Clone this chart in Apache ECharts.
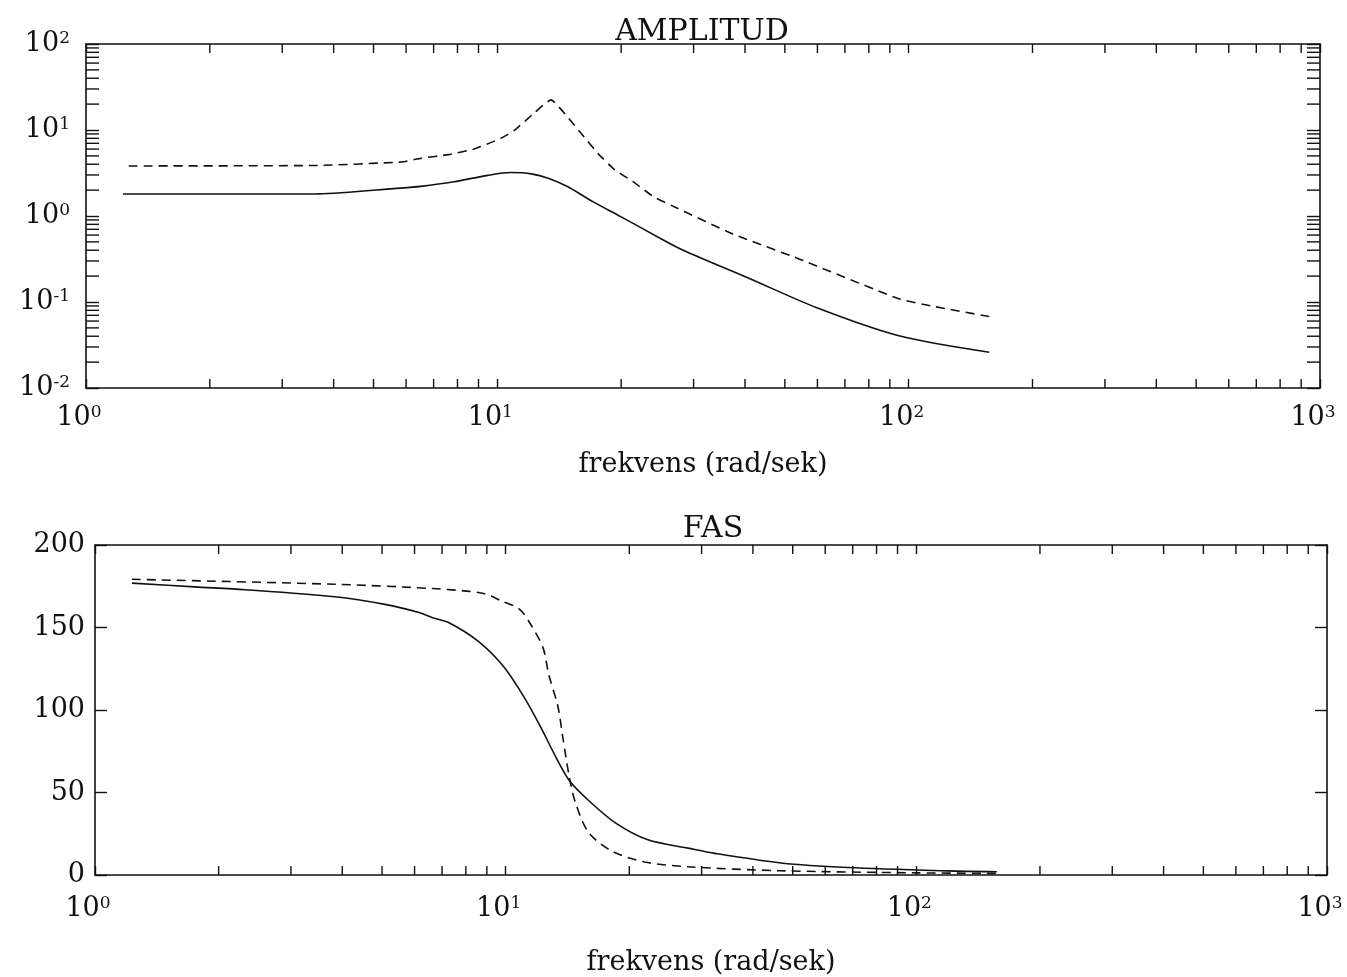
<!DOCTYPE html>
<html>
<head>
<meta charset="utf-8">
<script src="https://cdn.jsdelivr.net/npm/echarts@6/dist/echarts.min.js"></script>
<style>
  html, body { margin: 0; padding: 0; background: #fff; }
  #chart { width: 1347px; height: 977px; }
</style>
</head>
<body>
<div id="chart"></div>
<script>
// amplitud (log-log)
const ampSolidX = [1.23, 2.65, 3.66, 5.82, 6.51, 7.84, 9.48, 10.8, 12.1, 13.3, 14.8, 17.1, 19.9, 24.8, 28.3, 41.0, 59.6, 94.7, 157]
const ampSolidY = [1.80, 1.80, 1.81, 2.11, 2.21, 2.50, 2.97, 3.20, 3.09, 2.75, 2.20, 1.46, 0.99, 0.556, 0.40, 0.188, 0.0863, 0.0405, 0.0261]
const ampDashX = [1.27, 3.66, 5.84, 6.53, 7.60, 8.79, 10.2, 11.0, 12.3, 13.5, 14.9, 16.0, 17.6, 19.2, 21.5, 24.0, 27.4, 37.4, 54.3, 94.6, 114, 159]
const ampDashY = [3.82, 3.87, 4.25, 4.70, 5.17, 6.01, 8.0, 9.9, 15.8, 22.4, 13.7, 9.1, 5.28, 3.51, 2.46, 1.67, 1.23, 0.617, 0.315, 0.109, 0.0895, 0.067]

// fas (grader)
const fasSolidX = [1.23, 1.75, 2.32, 3.84, 5.08, 6.15, 6.61, 7.26, 8.58, 9.85, 11.05, 12.1, 13.3, 14.3, 15.9, 18.5, 22.2, 27.8, 32.3, 46.8, 68, 119, 157]
const fasSolidY = [176.9, 174.6, 172.9, 168.6, 164.0, 159.1, 156.1, 153.0, 141.6, 126.8, 108.4, 90.8, 70.7, 57.1, 45.3, 31.6, 21.3, 16.3, 13.1, 7.3, 4.5, 2.5, 2.0]
const fasDashX = [1.23, 3.84, 6.62, 8.77, 9.79, 10.8, 11.56, 12.34, 12.73, 13.4, 13.8, 14.3, 14.8, 15.9, 18.1, 21.8, 27.8, 46.6, 100, 157]
const fasDashY = [179.2, 176.2, 173.6, 170.8, 166.0, 161.1, 151.1, 137.5, 121.6, 102.3, 82.3, 58.9, 43.6, 26.0, 14.6, 7.9, 5.0, 2.6, 1.3, 1.0]

// axes
const freqMin = 1, freqMax = 1000
const ampMin = 0.01, ampMax = 100
const fasMin = 0, fasMax = 200, fasStep = 50
const freqMinor = [2, 3, 4, 5, 6, 7, 8, 9, 20, 30, 40, 50, 60, 70, 80, 90, 200, 300, 400, 500, 600, 700, 800, 900]
const ampMinor = [0.02, 0.03, 0.04, 0.05, 0.06, 0.07, 0.08, 0.09, 0.2, 0.3, 0.4, 0.5, 0.6, 0.7, 0.8, 0.9,
	2, 3, 4, 5, 6, 7, 8, 9, 20, 30, 40, 50, 60, 70, 80, 90]

const FONT = 'DejaVu Serif'
const INK = '#111'

const zip = (xs, ys) => xs.map((x, i) => [x, ys[i]])

const powLabel = {
	formatter: (v) => '{b|10}{s|' + Math.round(Math.log10(v)) + '}',
	rich: {
		b: { fontFamily: FONT, fontSize: 27, color: INK },
		s: { fontFamily: FONT, fontSize: 17, color: INK, verticalAlign: 'top' },
	},
}

function logX(grid, pos, showLabel, margin, gap) {
	return {
		type: 'log', logBase: 10, gridIndex: grid, position: pos,
		min: freqMin, max: freqMax,
		axisLine: { onZero: false, lineStyle: { color: INK, width: 1.6 } },
		axisTick: { show: true, inside: true, length: 9, lineStyle: { color: INK, width: 1.4 } },
		axisLabel: Object.assign({ show: showLabel, margin: margin, padding: [0, 14, 0, 0] }, powLabel),
		splitLine: { show: false },
		name: showLabel ? 'frekvens (rad/sek)' : '',
		nameLocation: 'middle',
		nameGap: gap,
		nameTextStyle: { fontFamily: FONT, fontSize: 27, color: INK },
	}
}

// tick marks between the decades, placed through the axis scales
function minorTicks(xi, yi, dim, values, ref, len) {
	return {
		type: 'custom',
		xAxisIndex: xi, yAxisIndex: yi,
		silent: true,
		clip: false,
		data: values.map((v) => (dim === 'x' ? [v, ref] : [ref, v])),
		renderItem(params, api) {
			const cs = params.coordSys
			const p = api.coord([api.value(0), api.value(1)])
			const style = { stroke: INK, lineWidth: 1.4 }
			if (dim === 'x') {
				const b = cs.y + cs.height
				return { type: 'group', children: [
					{ type: 'line', shape: { x1: p[0], y1: b, x2: p[0], y2: b - len }, style },
					{ type: 'line', shape: { x1: p[0], y1: cs.y, x2: p[0], y2: cs.y + len }, style },
				] }
			}
			const r = cs.x + cs.width
			return { type: 'group', children: [
				{ type: 'line', shape: { x1: cs.x, y1: p[1], x2: cs.x + len, y2: p[1] }, style },
				{ type: 'line', shape: { x1: r, y1: p[1], x2: r - len, y2: p[1] }, style },
			] }
		},
	}
}

const chart = echarts.init(document.getElementById('chart'))
chart.setOption({
	animation: false,
	backgroundColor: '#fff',
	title: [
		{ text: 'AMPLITUD', left: 697, top: 12, textAlign: 'center',
			textStyle: { fontFamily: FONT, fontSize: 30, fontWeight: 'normal', color: INK } },
		{ text: 'FAS', left: 708, top: 509, textAlign: 'center',
			textStyle: { fontFamily: FONT, fontSize: 30, fontWeight: 'normal', color: INK } },
	],
	grid: [
		{ left: 86, top: 44, width: 1234, height: 344 },
		{ left: 95, top: 545, width: 1232, height: 341 },
	],
	xAxis: [
		logX(0, 'bottom', true, 16, 63),
		logX(0, 'top', false, 8, 0),
		logX(1, 'bottom', true, 20, 74),
		logX(1, 'top', false, 8, 0),
	],
	yAxis: [
		{
			type: 'log', logBase: 10, gridIndex: 0, position: 'left',
			min: ampMin, max: ampMax,
			axisLine: { onZero: false, lineStyle: { color: INK, width: 1.6 } },
			axisTick: { inside: true, length: 13, lineStyle: { color: INK, width: 1.4 } },
			axisLabel: Object.assign({ margin: 16 }, powLabel),
			splitLine: { show: false },
		},
		{
			type: 'log', logBase: 10, gridIndex: 0, position: 'right',
			min: ampMin, max: ampMax,
			axisLine: { onZero: false, lineStyle: { color: INK, width: 1.6 } },
			axisTick: { inside: true, length: 13, lineStyle: { color: INK, width: 1.4 } },
			axisLabel: { show: false },
			splitLine: { show: false },
		},
		{
			type: 'value', gridIndex: 1, position: 'left',
			min: fasMin, max: fasMax, interval: fasStep,
			axisLine: { show: true, onZero: false, lineStyle: { color: INK, width: 1.6 } },
			axisTick: { show: true, inside: true, length: 12, lineStyle: { color: INK, width: 1.4 } },
			axisLabel: { margin: 10, fontFamily: FONT, fontSize: 27, color: INK },
			splitLine: { show: false },
		},
		{
			type: 'value', gridIndex: 1, position: 'right',
			min: fasMin, max: fasMax, interval: fasStep,
			axisLine: { show: true, onZero: false, lineStyle: { color: INK, width: 1.6 } },
			axisTick: { show: true, inside: true, length: 12, lineStyle: { color: INK, width: 1.4 } },
			axisLabel: { show: false },
			splitLine: { show: false },
		},
	],
	series: [
		{
			name: 'amp', type: 'line', xAxisIndex: 0, yAxisIndex: 0,
			data: zip(ampSolidX, ampSolidY), showSymbol: false, smooth: 0.3,
			lineStyle: { color: INK, width: 1.6 },
		},
		{
			name: 'amp2', type: 'line', xAxisIndex: 0, yAxisIndex: 0,
			data: zip(ampDashX, ampDashY), showSymbol: false, smooth: 0.15,
			lineStyle: { color: INK, width: 1.6, type: [9, 6] },
		},
		{
			name: 'fas', type: 'line', xAxisIndex: 2, yAxisIndex: 2,
			data: zip(fasSolidX, fasSolidY), showSymbol: false, smooth: 0.3,
			lineStyle: { color: INK, width: 1.6 },
		},
		{
			name: 'fas2', type: 'line', xAxisIndex: 2, yAxisIndex: 2,
			data: zip(fasDashX, fasDashY), showSymbol: false, smooth: 0.3,
			lineStyle: { color: INK, width: 1.6, type: [9, 6] },
		},
		minorTicks(0, 0, 'x', freqMinor, 1, 9),
		minorTicks(0, 0, 'y', ampMinor, 10, 13),
		minorTicks(2, 2, 'x', freqMinor, 100, 9),
	],
})
window.addEventListener('resize', chart.resize)
</script>
</body>
</html>
